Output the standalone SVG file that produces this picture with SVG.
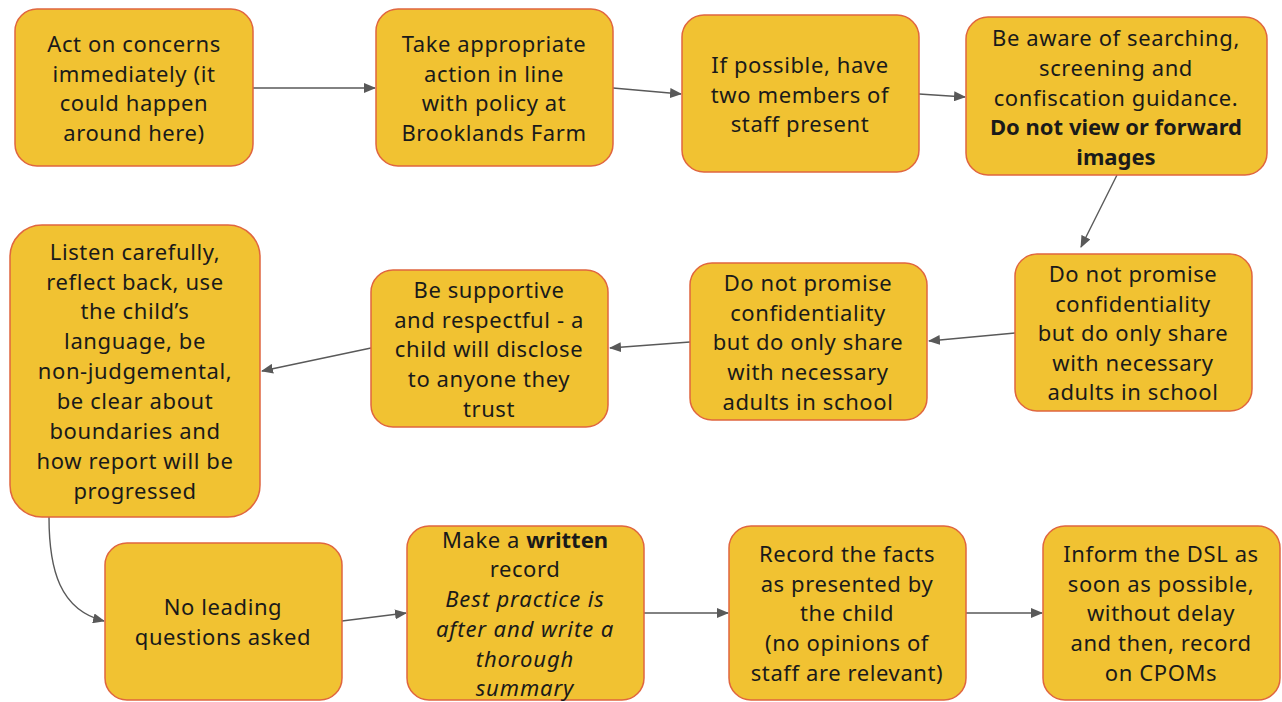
<svg xmlns="http://www.w3.org/2000/svg" width="1282" height="702" viewBox="0 0 1282 702">
<style>
.box{fill:#F1C232;stroke:#E0663F;stroke-width:1.5}
.t{font-family:"Noto Sans","Open Sans",sans-serif;font-size:22px;letter-spacing:0.6px;fill:#1a1a1a;text-anchor:middle}
.b{font-weight:bold;letter-spacing:0}
.i{font-style:italic;letter-spacing:0.9px}
.c{fill:none;stroke:#595959;stroke-width:1.4}
</style>
<defs>
<marker id="ah" viewBox="0 0 12 10" refX="11" refY="5" markerWidth="12" markerHeight="10" markerUnits="userSpaceOnUse" orient="auto">
<path d="M0,0 L12,5 L0,10 Z" fill="#595959"/>
</marker>
</defs>
<rect width="1282" height="702" fill="#ffffff"/>
<g id="connectors">
<path class="c" d="M253,88 L375,88" marker-end="url(#ah)"/>
<path class="c" d="M613,88 L681,94" marker-end="url(#ah)"/>
<path class="c" d="M919,94 L965,97" marker-end="url(#ah)"/>
<path class="c" d="M1117,175 L1081,247" marker-end="url(#ah)"/>
<path class="c" d="M1015,333 L929,341" marker-end="url(#ah)"/>
<path class="c" d="M690,342 L610,348" marker-end="url(#ah)"/>
<path class="c" d="M371,348 L262,371" marker-end="url(#ah)"/>
<path class="c" d="M49,517 C49,570 60,610 104,621" marker-end="url(#ah)"/>
<path class="c" d="M342,621 L406,613" marker-end="url(#ah)"/>
<path class="c" d="M644,613 L728,613" marker-end="url(#ah)"/>
<path class="c" d="M966,613 L1042,613" marker-end="url(#ah)"/>
</g>
<g id="n1">
<rect class="box" x="15" y="9" width="238" height="157" rx="22"/>
<text class="t" x="134" y="52">Act on concerns</text>
<text class="t" x="134" y="82">immediately (it</text>
<text class="t" x="134" y="111">could happen</text>
<text class="t" x="134" y="141">around here)</text>
</g>
<g id="n2">
<rect class="box" x="376" y="9" width="237" height="157" rx="22"/>
<text class="t" x="494" y="52">Take appropriate</text>
<text class="t" x="494" y="82">action in line</text>
<text class="t" x="494" y="111">with policy at</text>
<text class="t" x="494" y="141">Brooklands Farm</text>
</g>
<g id="n3">
<rect class="box" x="682" y="15" width="237" height="157" rx="22"/>
<text class="t" x="800" y="73">If possible, have</text>
<text class="t" x="800" y="103">two members of</text>
<text class="t" x="800" y="132">staff present</text>
</g>
<g id="n4">
<rect class="box" x="966" y="17" width="301" height="158" rx="22"/>
<text class="t" x="1116" y="46">Be aware of searching,</text>
<text class="t" x="1116" y="76">screening and</text>
<text class="t" x="1116" y="106">confiscation guidance.</text>
<text class="t b" x="1116" y="135">Do not view or forward</text>
<text class="t b" x="1116" y="165">images</text>
</g>
<g id="n5">
<rect class="box" x="1015" y="254" width="237" height="157" rx="22"/>
<text class="t" x="1133" y="282">Do not promise</text>
<text class="t" x="1133" y="312">confidentiality</text>
<text class="t" x="1133" y="341">but do only share</text>
<text class="t" x="1133" y="371">with necessary</text>
<text class="t" x="1133" y="400">adults in school</text>
</g>
<g id="n6">
<rect class="box" x="690" y="263" width="237" height="157" rx="22"/>
<text class="t" x="808" y="291">Do not promise</text>
<text class="t" x="808" y="321">confidentiality</text>
<text class="t" x="808" y="350">but do only share</text>
<text class="t" x="808" y="380">with necessary</text>
<text class="t" x="808" y="410">adults in school</text>
</g>
<g id="n7">
<rect class="box" x="371" y="270" width="237" height="157" rx="22"/>
<text class="t" x="489" y="298">Be supportive</text>
<text class="t" x="489" y="328">and respectful - a</text>
<text class="t" x="489" y="357">child will disclose</text>
<text class="t" x="489" y="387">to anyone they</text>
<text class="t" x="489" y="417">trust</text>
</g>
<g id="n8">
<rect class="box" x="10" y="225" width="250" height="292" rx="32"/>
<text class="t" x="135" y="260">Listen carefully,</text>
<text class="t" x="135" y="290">reflect back, use</text>
<text class="t" x="135" y="319">the child’s</text>
<text class="t" x="135" y="349">language, be</text>
<text class="t" x="135" y="379">non-judgemental,</text>
<text class="t" x="135" y="409">be clear about</text>
<text class="t" x="135" y="439">boundaries and</text>
<text class="t" x="135" y="469">how report will be</text>
<text class="t" x="135" y="499">progressed</text>
</g>
<g id="n9">
<rect class="box" x="105" y="543" width="237" height="157" rx="22"/>
<text class="t" x="223" y="615">No leading</text>
<text class="t" x="223" y="645">questions asked</text>
</g>
<g id="n10">
<rect class="box" x="407" y="526" width="237" height="174" rx="22"/>
<text class="t" x="525" y="548">Make a <tspan class="b">written</tspan></text>
<text class="t" x="525" y="577">record</text>
<text class="t i" x="525" y="607">Best practice is</text>
<text class="t i" x="525" y="637">after and write a</text>
<text class="t i" x="525" y="667">thorough</text>
<text class="t i" x="525" y="696">summary</text>
</g>
<g id="n11">
<rect class="box" x="729" y="526" width="237" height="174" rx="22"/>
<text class="t" x="847" y="562">Record the facts</text>
<text class="t" x="847" y="592">as presented by</text>
<text class="t" x="847" y="621">the child</text>
<text class="t" x="847" y="651">(no opinions of</text>
<text class="t" x="847" y="681">staff are relevant)</text>
</g>
<g id="n12">
<rect class="box" x="1043" y="526" width="237" height="174" rx="22"/>
<text class="t" x="1161" y="562">Inform the DSL as</text>
<text class="t" x="1161" y="592">soon as possible,</text>
<text class="t" x="1161" y="621">without delay</text>
<text class="t" x="1161" y="651">and then, record</text>
<text class="t" x="1161" y="681">on CPOMs</text>
</g>
</svg>
